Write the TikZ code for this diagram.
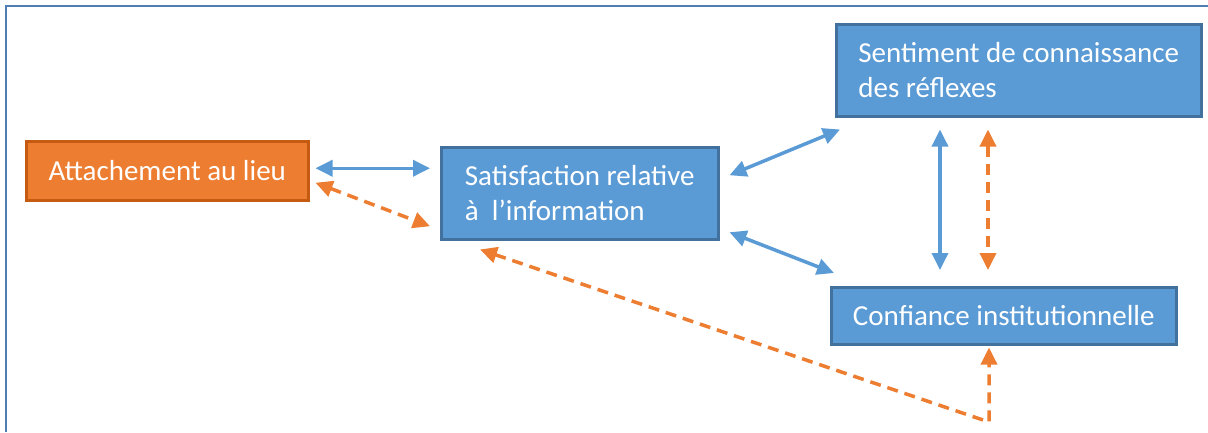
\documentclass[tikz,border=0pt]{standalone}
\usepackage{fontspec}
\setmainfont{Carlito}
\usetikzlibrary{arrows.meta,calc}
\definecolor{bfill}{HTML}{5B9BD5}
\definecolor{bline}{HTML}{41719C}
\definecolor{ofill}{HTML}{ED7D31}
\definecolor{oline}{HTML}{C55A11}
\definecolor{framec}{HTML}{4F7DB5}
\tikzset{
  boxbase/.style={draw, line width=2.5pt, anchor=north west, inner sep=0pt,
    text=white, font=\fontsize{29}{35}\selectfont},
  obox/.style={boxbase, fill=ofill, draw=oline},
  bbox/.style={boxbase, fill=bfill, draw=bline},
  tipb/.tip={Triangle[length=17pt,width=16pt]},
  barrow/.style={draw=bfill, line width=3.5pt, tipb-tipb},
  oarrow/.style={draw=ofill, line width=3.5pt, dash pattern=on 11pt off 7pt, tipb-tipb},
  framel/.style={draw=framec, line width=2.5pt}
}
\begin{document}
\begin{tikzpicture}[x=1pt,y=1pt]
\useasboundingbox (0,0) rectangle (1208,-432);
\coordinate (f1) at (6,-432);
\coordinate (f2) at (6,-6);
\coordinate (f3) at (1208,-6);
\draw[framel] (f1) -- (f2) -- (f3);

\node[obox, minimum width=282, minimum height=59] (att) at (25,-140) {Attachement au lieu};
\node[bbox, minimum width=277, minimum height=92, align=left, inner xsep=22pt] (sat) at (440,-146) {Satisfaction relative\\ à\ \ l’information};
\node[bbox, minimum width=365, minimum height=92, align=left, inner xsep=22pt] (sent) at (835,-23) {Sentiment de connaissance\\des réflexes};
\node[bbox, minimum width=345, minimum height=57] (conf) at (830,-286) {Confiance institutionnelle};

\coordinate (v1) at (940,0);
\coordinate (v2) at (988,0);
\coordinate (corner) at (989,-422);
\coordinate (h1) at ([yshift=2.5]att.east);

\draw[barrow] ([xshift=6]h1) -- ([xshift=-10]sat.west |- h1);
\draw[oarrow] ([xshift=6,yshift=-12]att.east) -- ([xshift=-10,yshift=-33]sat.west);
\draw[barrow] ([xshift=10,yshift=18]sat.east) -- ([xshift=5,yshift=-12]sent.south west);
\draw[barrow] ([xshift=10,yshift=-39]sat.east) -- ([xshift=4,yshift=13]conf.north west);
\draw[barrow] ([yshift=-12]sent.south -| v1) -- ([yshift=16]conf.north -| v1);
\draw[oarrow] ([yshift=-12]sent.south -| v2) -- ([yshift=16]conf.north -| v2);
\draw[oarrow] ([xshift=40,yshift=-9]sat.south west) -- (corner) -- ([yshift=-2]conf.south -| corner);
\end{tikzpicture}
\end{document}
